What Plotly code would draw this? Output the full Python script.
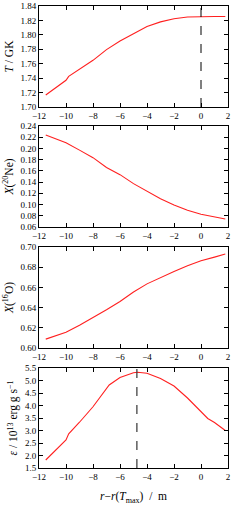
import plotly.graph_objects as go

# Data
r_T = [-11.5, -10.0, -9.8, -9.0, -8.0, -7.0, -6.0, -5.0, -4.0, -3.0, -2.0, -1.0, 0.0, 1.0, 1.8]
T_GK = [1.7166, 1.737, 1.7425, 1.752, 1.7647, 1.7795, 1.7915, 1.8016, 1.8115, 1.818, 1.8224, 1.8247, 1.8255, 1.8255, 1.8255]

r_Ne = [-11.5, -10.0, -9.0, -8.0, -7.0, -6.0, -5.0, -4.0, -3.0, -2.0, -1.0, 0.0, 1.0, 1.8]
X_Ne = [0.224, 0.2103, 0.197, 0.1836, 0.166, 0.1533, 0.1373, 0.1243, 0.1105, 0.0994, 0.0897, 0.0828, 0.078, 0.0742]

r_O = [-11.5, -10.0, -9.0, -8.0, -7.0, -6.0, -5.0, -4.0, -3.0, -2.0, -1.0, 0.0, 1.0, 1.8]
X_O = [0.6088, 0.6155, 0.6225, 0.630, 0.6378, 0.646, 0.6555, 0.6635, 0.670, 0.6757, 0.6815, 0.6863, 0.690, 0.693]

r_eps = [-11.5, -10.0, -9.8, -9.0, -8.0, -7.0, -6.8, -6.0, -5.0, -4.7, -4.0, -3.0, -2.0, -1.0, 0.0, 0.5, 1.0, 1.5, 1.8]
eps = [1.82, 2.62, 2.87, 3.33, 3.95, 4.65, 4.82, 5.12, 5.31, 5.33, 5.29, 5.08, 4.78, 4.30, 3.78, 3.48, 3.32, 3.1, 3.0]

T_max_pos = 0.0
eps_max_pos = -4.75

x_ticks = [-12, -10, -8, -6, -4, -2, 0, 2]

font_family = "Liberation Serif"

fig = go.Figure()
series = [(r_T, T_GK), (r_Ne, X_Ne), (r_O, X_O), (r_eps, eps)]
for i, (xs, ys) in enumerate(series):
    fig.add_trace(go.Scatter(x=xs, y=ys, mode="lines",
                             line=dict(color="#ff2020", width=1.1),
                             xaxis="x" if i == 0 else f"x{i+1}",
                             yaxis="y" if i == 0 else f"y{i+1}",
                             showlegend=False, hoverinfo="skip"))

H = 462.0
def dom(top_px, bot_px):
    return [(468 - bot_px) / H, (468 - top_px) / H]

domains = [dom(6, 107), dom(126, 227), dom(247, 348), dom(368, 468)]
y_cfg = [
    dict(range=[1.70, 1.84], dtick=0.02, tickformat=".2f", title="<i>T</i> / GK"),
    dict(range=[0.06, 0.24], dtick=0.02, tickformat=".2f", title="<i>X</i>(<sup>20</sup>Ne)"),
    dict(range=[0.60, 0.70], dtick=0.02, tickformat=".2f", title="<i>X</i>(<sup>16</sup>O)"),
    dict(range=[1.5, 5.5], dtick=0.5, tickformat=".1f",
         title="<i>ε</i> / 10<sup>13</sup> erg g s<sup>−1</sup>"),
]

axis_common = dict(showline=True, linecolor="black", linewidth=1, mirror="allticks",
                   ticks="inside", ticklen=4, tickcolor="black", showgrid=False,
                   zeroline=False, automargin=False,
                   tickfont=dict(family=font_family, size=9, color="black"))

layout = dict(width=240, height=512, margin=dict(l=39, r=12, t=6, b=44, autoexpand=False),
              paper_bgcolor="white", plot_bgcolor="white",
              font=dict(family=font_family, color="black"))

for i in range(4):
    xk = "xaxis" if i == 0 else f"xaxis{i+1}"
    yk = "yaxis" if i == 0 else f"yaxis{i+1}"
    xa = dict(axis_common, range=[-12, 2], autorange=False, tickmode="array", tickvals=x_ticks,
              anchor="y" if i == 0 else f"y{i+1}", domain=[0, 1])
    if i == 3:
        xa["title"] = dict(text="<i>r</i>−<i>r</i>(<i>T</i><sub>max</sub>)  /  m",
                           font=dict(family=font_family, size=11.5), standoff=11)
    cfg = y_cfg[i]
    ya = dict(axis_common, range=cfg["range"], autorange=False, dtick=cfg["dtick"],
              tickformat=cfg["tickformat"],
              anchor="x" if i == 0 else f"x{i+1}", domain=domains[i],
              title=dict(text=cfg["title"], font=dict(family=font_family, size=11.5), standoff=4))
    layout[xk] = xa
    layout[yk] = ya

fig.update_layout(**layout)

fig.add_shape(type="line", xref="x", yref="y domain", x0=T_max_pos, x1=T_max_pos, y0=0, y1=1,
              line=dict(color="black", width=1, dash="dash"))
fig.add_shape(type="line", xref="x4", yref="y4 domain", x0=eps_max_pos, x1=eps_max_pos, y0=0, y1=1,
              line=dict(color="#444444", width=1.3, dash="dash"))

fig.write_html("out.html", config={"displayModeBar": False},
               post_script="document.body.style.margin='0';document.body.style.overflow='hidden';")
